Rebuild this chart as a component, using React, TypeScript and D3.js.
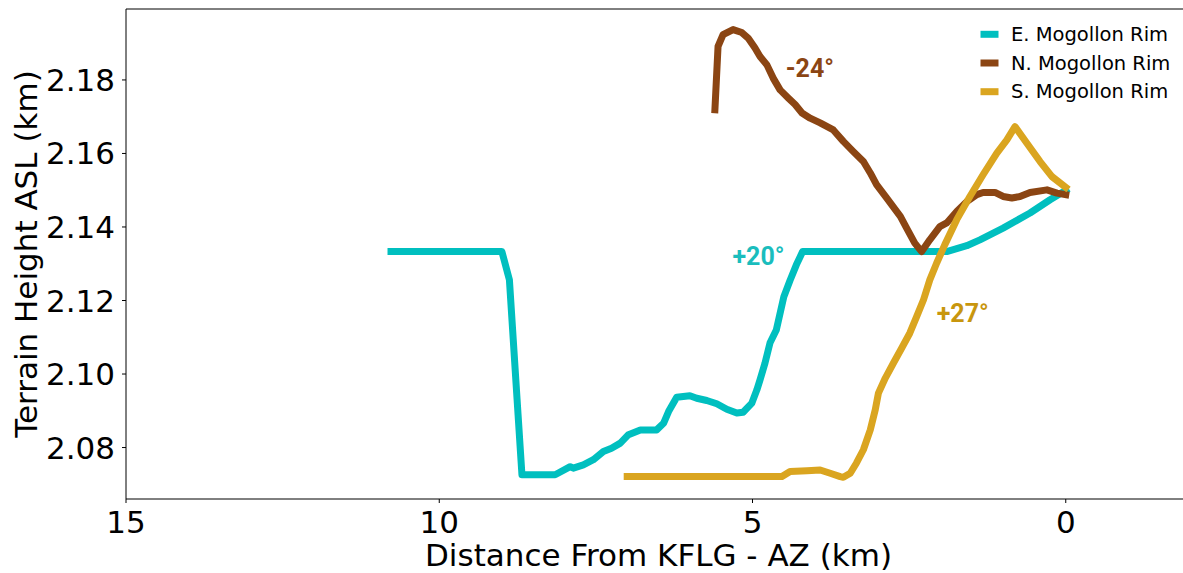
import React from "react";
import * as d3 from "d3";

const W = 1183;
const H = 573;

// E. Mogollon Rim
const eDist = [10.77, 9.0, 8.88, 8.76, 8.68, 8.15, 7.91, 7.86, 7.70, 7.54, 7.38, 7.25, 7.11, 6.98, 6.79, 6.53, 6.42, 6.34, 6.21, 6.00, 5.89, 5.73, 5.57, 5.41, 5.25, 5.15, 5.01, 4.93, 4.88, 4.80, 4.72, 4.62, 4.50, 4.40, 4.30, 4.20, 1.90, 1.58, 1.37, 1.00, 0.57, 0.25, 0.0];
const eHeight = [2.1333, 2.1333, 2.1256, 2.0937, 2.0726, 2.0726, 2.0748, 2.0744, 2.0753, 2.0767, 2.0789, 2.0798, 2.0812, 2.0835, 2.0848, 2.0848, 2.0866, 2.0898, 2.0937, 2.0941, 2.0934, 2.0928, 2.0919, 2.0904, 2.0894, 2.0896, 2.0921, 2.0957, 2.0984, 2.1030, 2.1085, 2.1120, 2.1210, 2.1255, 2.1297, 2.1333, 2.1333, 2.1349, 2.1365, 2.1397, 2.1438, 2.1474, 2.1500];

// N. Mogollon Rim
const nDist = [5.60, 5.55, 5.47, 5.31, 5.17, 5.07, 4.96, 4.88, 4.77, 4.67, 4.56, 4.43, 4.32, 4.21, 4.08, 3.92, 3.71, 3.55, 3.39, 3.23, 3.12, 3.02, 2.86, 2.64, 2.54, 2.41, 2.30, 2.17, 2.01, 1.90, 1.74, 1.58, 1.42, 1.32, 1.13, 1.00, 0.86, 0.73, 0.57, 0.30, 0.14, 0.0];
const nHeight = [2.1719, 2.1891, 2.1923, 2.1937, 2.1929, 2.1914, 2.1887, 2.1864, 2.1841, 2.1805, 2.1773, 2.1751, 2.1733, 2.1710, 2.1696, 2.1683, 2.1664, 2.1633, 2.1605, 2.1578, 2.1547, 2.1515, 2.1479, 2.1429, 2.1397, 2.1356, 2.1333, 2.1365, 2.1401, 2.1411, 2.1442, 2.1469, 2.1488, 2.1494, 2.1494, 2.1483, 2.1479, 2.1483, 2.1494, 2.1501, 2.1492, 2.1488];

// S. Mogollon Rim
const sDist = [7.0, 4.53, 4.40, 4.13, 3.92, 3.76, 3.60, 3.55, 3.44, 3.34, 3.23, 3.12, 3.04, 2.99, 2.88, 2.75, 2.62, 2.49, 2.38, 2.27, 2.17, 2.06, 1.93, 1.74, 1.53, 1.32, 1.10, 0.94, 0.81, 0.62, 0.41, 0.22, 0.0];
const sHeight = [2.0721, 2.0721, 2.0735, 2.0737, 2.0739, 2.0730, 2.0721, 2.0719, 2.0730, 2.0758, 2.0794, 2.0848, 2.0903, 2.0948, 2.0989, 2.1030, 2.1070, 2.1111, 2.1156, 2.1202, 2.1256, 2.1302, 2.1352, 2.1420, 2.1483, 2.1542, 2.1601, 2.1637, 2.1673, 2.1628, 2.1578, 2.1537, 2.1508];

const seriesNames = ["E. Mogollon Rim", "N. Mogollon Rim", "S. Mogollon Rim"];
const seriesColors = ["#00BFBF", "#8B4513", "#DAA520"];
const xTicks = [15, 10, 5, 0];
const yTicks = [2.08, 2.10, 2.12, 2.14, 2.16, 2.18];

const annotations = [
  { text: "-24°", x: 4.47, y: 2.1809, color: "#8B4513" },
  { text: "+20°", x: 5.32, y: 2.1297, color: "#1ABDBD" },
  { text: "+27°", x: 2.06, y: 2.1142, color: "#C8960E" },
];

const FONT = "'DejaVu Sans', sans-serif";

export default function App() {
  const left = 126;
  const top = 9;
  const bottom = 499;
  const x = d3.scaleLinear().domain([15, -2]).range([left, left + 17 * 62.65]);
  const y = d3.scaleLinear().domain([2.066, 2.1993]).range([bottom, top]);
  const right = x(-2);

  const line = d3
    .line<[number, number]>()
    .x((d) => x(d[0]))
    .y((d) => y(d[1]));

  const series = [
    d3.zip(eDist, eHeight) as [number, number][],
    d3.zip(nDist, nHeight) as [number, number][],
    d3.zip(sDist, sHeight) as [number, number][],
  ];

  return (
    <svg
      width={W}
      height={H}
      style={{ position: "absolute", left: 0, top: 0, background: "#fff" }}
    >
      <rect x={0} y={0} width={W} height={H} fill="#fff" />
      {series.map((s, i) => (
        <path
          key={i}
          d={line(s) || ""}
          fill="none"
          stroke={seriesColors[i]}
          strokeWidth={7}
          strokeLinejoin="round"
          strokeLinecap="square"
        />
      ))}
      {annotations.map((a, i) => (
        <text
          key={i}
          x={x(a.x)}
          y={y(a.y)}
          fill={a.color}
          fontFamily="Roboto, sans-serif"
          fontWeight={700}
          fontSize={25}
        >
          {a.text}
        </text>
      ))}
      {/* spines */}
      <line x1={left} x2={left} y1={top} y2={bottom} stroke="#000" strokeWidth={1} />
      <line x1={left} x2={right} y1={bottom} y2={bottom} stroke="#000" strokeWidth={1} />
      <line x1={left} x2={right} y1={top} y2={top} stroke="#000" strokeWidth={1} />
      <line x1={right} x2={right} y1={top} y2={bottom} stroke="#000" strokeWidth={1} />
      {/* x ticks */}
      {xTicks.map((t) => (
        <g key={t}>
          <line x1={x(t)} x2={x(t)} y1={bottom} y2={bottom + 4} stroke="#000" />
          <text
            x={x(t)}
            y={bottom + 34}
            textAnchor="middle"
            fontFamily={FONT}
            fontSize={31}
            fill="#000"
          >
            {t}
          </text>
        </g>
      ))}
      {yTicks.map((t) => (
        <g key={t}>
          <line x1={left - 4} x2={left} y1={y(t)} y2={y(t)} stroke="#000" />
          <text
            x={left - 11}
            y={y(t)}
            textAnchor="end"
            dominantBaseline="central"
            fontFamily={FONT}
            fontSize={31}
            fill="#000"
          >
            {t.toFixed(2)}
          </text>
        </g>
      ))}
      <text
        x={(left + right) / 2}
        y={566}
        textAnchor="middle"
        fontFamily={FONT}
        fontSize={31}
        fill="#000"
      >
        Distance From KFLG - AZ (km)
      </text>
      <text
        transform={`translate(37, ${(top + bottom) / 2}) rotate(-90)`}
        textAnchor="middle"
        fontFamily={FONT}
        fontSize={31}
        fill="#000"
      >
        Terrain Height ASL (km)
      </text>
      {/* legend */}
      {seriesNames.map((n, i) => {
        const cy = 34.3 + i * 28.7;
        return (
          <g key={n}>
            <line x1={984} x2={995} y1={cy} y2={cy} stroke={seriesColors[i]} strokeWidth={7} strokeLinecap="square" />
            <text x={1011} y={cy} dominantBaseline="central" fontFamily={FONT} fontSize={19.5} fill="#000">
              {n}
            </text>
          </g>
        );
      })}
    </svg>
  );
}
